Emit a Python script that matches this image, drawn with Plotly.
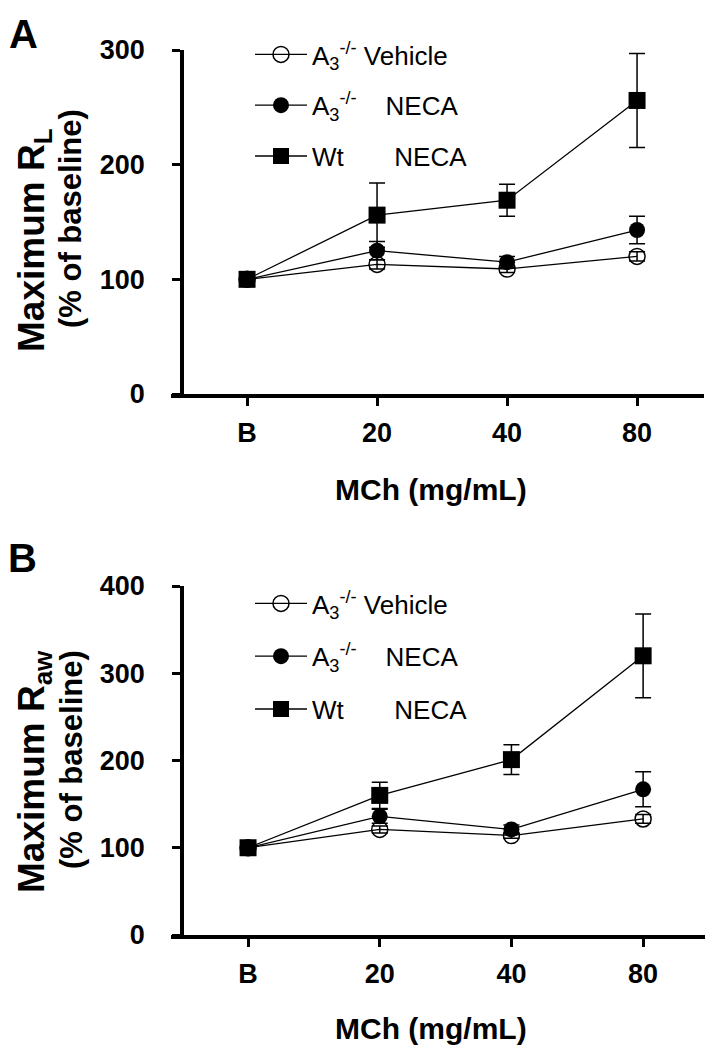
import plotly.graph_objects as go

# MCh doses (B = baseline)
doses = ['B', '20', '40', '80']
series_names = ['A<sub>3</sub><sup>-/-</sup> Vehicle',
                'A<sub>3</sub><sup>-/-</sup>\u00a0\u00a0\u00a0\u00a0NECA',
                'Wt\u00a0\u00a0\u00a0\u00a0\u00a0\u00a0\u00a0NECA']

# panel A: maximum RL (% of baseline)
veh_rl = [100, 113, 109, 120]
veh_rl_err = [0, 4, 3, 4]
neca_rl = [100, 125, 115, 143]
neca_rl_err = [0, 8, 5, 12]
wt_rl = [100, 156, 169, 256]
wt_rl_err = [0, 28, 14, 41]

# panel B: maximum Raw (% of baseline)
veh_raw = [100, 121, 114, 133]
veh_raw_err = [0, 4, 3, 5]
neca_raw = [100, 136, 121, 167]
neca_raw_err = [0, 8, 5, 20]
wt_raw = [100, 160, 201, 320]
wt_raw_err = [0, 15, 17, 48]

yticks_a = [0, 100, 200, 300]
yticks_b = [0, 100, 200, 300, 400]

FONT = 'Liberation Sans'
# page body has an 8px margin, so the figure is a bit smaller than the window
OFF = 8
W, H = 713 - OFF, 1050 - OFF


def px(x):
    return (x - OFF) / W


def py(y):
    return 1 - (y - OFF) / H


symbols = [dict(symbol='circle-open', size=16, color='black', line=dict(width=1.5, color='black')),
           dict(symbol='circle', size=16, color='black'),
           dict(symbol='square', size=17, color='black')]

fig = go.Figure()

panels = [
    ('x', 'y', 'legend', [veh_rl, neca_rl, wt_rl], [veh_rl_err, neca_rl_err, wt_rl_err]),
    ('x2', 'y2', 'legend2', [veh_raw, neca_raw, wt_raw], [veh_raw_err, neca_raw_err, wt_raw_err]),
]
for xa, ya, leg, ys, errs in panels:
    for i in range(3):
        fig.add_trace(go.Scatter(
            x=doses, y=ys[i], xaxis=xa, yaxis=ya, name=series_names[i],
            mode='lines+markers', legend=leg, legendgroup=leg + str(i),
            line=dict(color='black', width=1.3),
            marker=symbols[i],
            error_y=dict(type='data', array=errs[i], visible=True,
                         color='black', thickness=1.5, width=8),
            cliponaxis=False,
        ))

axis_common = dict(showgrid=False, zeroline=False, showline=True, linecolor='black',
                   linewidth=3.5, ticks='outside', ticklen=8, tickwidth=3, tickcolor='black',
                   automargin=False,
                   tickfont=dict(family=FONT, size=27, color='black', weight='bold'))

fig.update_layout(
    width=W, height=H,
    margin=dict(l=0, r=0, t=0, b=0, autoexpand=False),
    paper_bgcolor='white', plot_bgcolor='white',
    font=dict(family=FONT, color='black'),
    xaxis=dict(domain=[px(171), px(704)], anchor='y', type='category',
               range=[-0.585, 3.515], ticklabelstandoff=4, **axis_common),
    yaxis=dict(domain=[py(394), py(50)], anchor='free', position=px(182),
               range=[0, 300], tickvals=yticks_a, ticklabelstandoff=22, **axis_common),
    xaxis2=dict(domain=[px(171), px(712)], anchor='y2', type='category',
                range=[-0.585, 3.523], ticklabelstandoff=4, **axis_common),
    yaxis2=dict(domain=[py(935), py(586)], anchor='free', position=px(182),
                range=[0, 400], tickvals=yticks_b, ticklabelstandoff=22, **axis_common),
    legend=dict(x=px(250), y=py(31), xanchor='left', yanchor='top',
                font=dict(family=FONT, size=26, color='black'),
                bgcolor='rgba(0,0,0,0)', itemwidth=52, tracegroupgap=14,
                traceorder='grouped'),
    legend2=dict(x=px(250), y=py(580), xanchor='left', yanchor='top',
                 font=dict(family=FONT, size=26, color='black'),
                 bgcolor='rgba(0,0,0,0)', itemwidth=52, tracegroupgap=16,
                 traceorder='grouped'),
    showlegend=True,
)

ann = []
# panel letters
ann.append(dict(text='<b>A</b>', x=px(23), y=py(34), font=dict(size=40)))
ann.append(dict(text='<b>B</b>', x=px(22), y=py(558), font=dict(size=40)))
# y titles
ann.append(dict(text='<b>Maximum R<sub>L</sub></b>', x=px(34), y=py(240),
                textangle=-90, font=dict(size=37)))
ann.append(dict(text='<b>(% of baseline)</b>', x=px(71), y=py(219),
                textangle=-90, font=dict(size=31)))
ann.append(dict(text='<b>Maximum R<sub>aw</sub></b>', x=px(34), y=py(772),
                textangle=-90, font=dict(size=37)))
ann.append(dict(text='<b>(% of baseline)</b>', x=px(71), y=py(760),
                textangle=-90, font=dict(size=31)))
# x titles
ann.append(dict(text='<b>MCh (mg/mL)</b>', x=px(431), y=py(490), font=dict(size=30)))
ann.append(dict(text='<b>MCh (mg/mL)</b>', x=px(431), y=py(1028), font=dict(size=30)))

for a in ann:
    a.update(xref='paper', yref='paper', showarrow=False, xanchor='center', yanchor='middle')
    a['font'].update(family=FONT, color='black')
fig.update_layout(annotations=ann)

fig.write_html('out.html')
